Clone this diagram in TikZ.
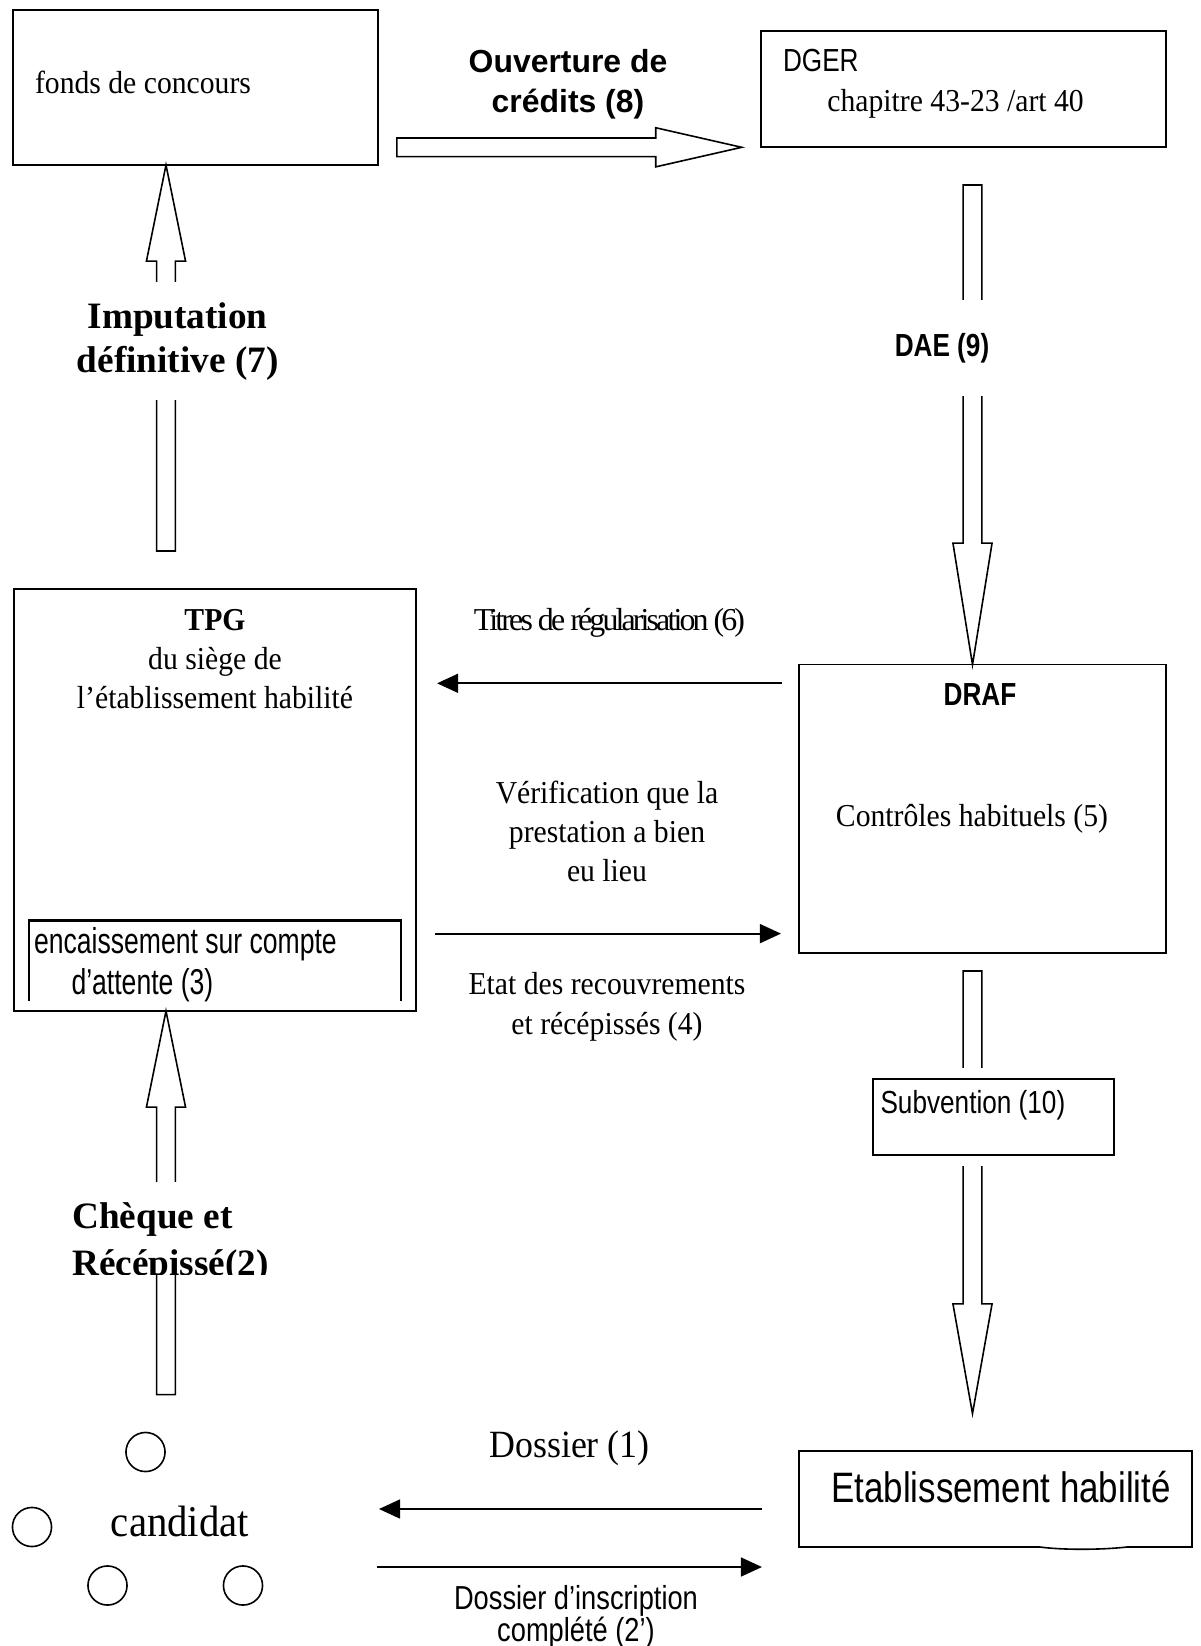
\documentclass[tikz,border=0pt]{standalone}
\usepackage{fontspec}
\setmainfont{Liberation Serif}[FakeStretch=0.93]
\setsansfont{Liberation Sans}[FakeStretch=0.82]
\newfontfamily\plainserif{Liberation Serif}
\newfontfamily\plainsans{Liberation Sans}
\newfontfamily\narrowsans{Liberation Sans}[FakeStretch=0.74]
\newfontfamily\tightserif{Liberation Serif}[LetterSpace=-9]
\usetikzlibrary{arrows.meta,calc}
\def\pxl{0.376pt}
\tikzset{
  >={Triangle[length=7.9pt,width=7.1pt]},
  box/.style={draw,line width=0.6pt,inner sep=0,outer sep=0},
  box thick/.style={box,line width=1pt},
  txt/.style={inner sep=0,font=\fontsize{12}{14.7}\selectfont},
  flow/.style={->,line width=0.75pt},
  hollow/.style={draw,line width=0.6pt,fill=white,line join=miter},
  ring/.style={circle,draw,line width=0.6pt,minimum size=14.7pt,inner sep=0}
}
% hollow block arrow: tail, tip, head length (pt)
\newcommand\hollowarrow[3]{%
  \draw[hollow] let \p1=(#1), \p2=(#2), \n1={veclen(\x2-\x1,\y2-\y1)},
    \n2={(\x2-\x1)/\n1}, \n3={(\y2-\y1)/\n1} in
    ({\x1-3.5*(\n3)},{\y1+3.5*(\n2)})
    -- ({\x2-#3*(\n2)-3.5*(\n3)},{\y2-#3*(\n3)+3.5*(\n2)})
    -- ({\x2-#3*(\n2)-7.35*(\n3)},{\y2-#3*(\n3)+7.35*(\n2)})
    -- (\x2,\y2)
    -- ({\x2-#3*(\n2)+7.35*(\n3)},{\y2-#3*(\n3)-7.35*(\n2)})
    -- ({\x2-#3*(\n2)+3.5*(\n3)},{\y2-#3*(\n3)-3.5*(\n2)})
    -- ({\x1+3.5*(\n3)},{\y1-3.5*(\n2)}) -- cycle;}

\begin{document}
\begin{tikzpicture}[x=\pxl,y=-\pxl]
\useasboundingbox (0,0) rectangle (1201,1646);
\coordinate (colL) at (166,0);
\coordinate (colR) at (972.5,0);
\coordinate (rowA) at (0,147.3);
\coordinate (row6) at (0,683.3);
\coordinate (row4) at (0,933.6);
\coordinate (row1) at (379,1509);
\coordinate (row2) at (376.7,1567);

\path
(195.5,87.5)  node[box,minimum width=137.2pt,minimum height=58.3pt] (fonds) {}
(963.5,89)    node[box,minimum width=152.3pt,minimum height=43.6pt] (dger) {}
(215,800)     node[box,minimum width=151.2pt,minimum height=158.7pt] (tpg) {}
(982.5,808.8) node[box,minimum width=138pt,minimum height=108.4pt] (draf) {}
(995.5,1499)  node[box,draw=none,minimum width=147.8pt,minimum height=36.1pt] (etab) {}
(145.5,1452)  node[ring] (c1) {}
(32,1527)     node[ring] (c2) {}
(107.5,1585.5) node[ring] (c3) {}
(243,1585.5)  node[ring] (c4) {};

% Etablissement box, its bottom edge slightly waved
\draw[line width=0.6pt] (etab.south east) -- (etab.north east) -- (etab.north west)
  -- (etab.south west) -- (1040,1547) .. controls (1062,1550) and (1100,1550) .. (1127,1547) -- cycle;

\hollowarrow{$(fonds.east |- rowA)+(19,0)$}{$(dger.west |- rowA)+(-19.3,0)$}{32.3}
\hollowarrow{$(colL |- tpg.north)+(0,-38)$}{colL |- fonds.south}{36.1}
\hollowarrow{$(colR |- dger.south)+(0,38)$}{colR |- draf.north}{45.7}
\hollowarrow{$(colR |- draf.south)+(0,18)$}{$(colR |- etab.north)+(0,-37.5)$}{41.2}
\hollowarrow{$(colL |- c1.north)+(0,-37)$}{colL |- tpg.south}{36.1}

\draw[line width=0.9pt] (29,1001) |- (401,920.5) -- (401,1001);

% multi-line labels sit on the baseline of their last line
\path
(993.5,1117) node[box thick,fill=white,preaction={draw=white,line width=8pt},
  minimum width=90.6pt,minimum height=28.6pt] (subv) {}
(34.5,93)   node[txt,anchor=base west] (fondsT) {fonds de concours}
(568,112)   node[txt,anchor=base,align=center,font={\plainsans\bfseries\fontsize{12}{14.7}\selectfont}] (ouv) {Ouverture de\\crédits (8)}
(782.5,111) node[txt,anchor=base west,align=left] (dgerT) {{\sffamily DGER}\\\hspace*{16.7pt}chapitre 43-23 /art 40}
(177.6,372) node[txt,anchor=base,align=center,fill=white,minimum height=44.4pt,
  font={\plainserif\bfseries\fontsize{14}{16.5}\selectfont}] (imp) {Imputation\\définitive (7)}
(942,356)   node[txt,anchor=base,fill=white,minimum height=36.1pt,
  font={\sffamily\bfseries\fontsize{12}{14.7}\selectfont}] (dae) {DAE (9)}
(215,708.6) node[txt,anchor=base,align=center] (tpgT) {\textbf{TPG}\\du siège de\\l’établissement habilité}
(609.5,630) node[txt,anchor=base,font={\tightserif\fontsize{12}{14.7}\selectfont}] (titres) {Titres de régularisation (6)}
(980,705)   node[txt,anchor=base,font={\sffamily\bfseries\fontsize{12}{14.7}\selectfont}] (drafT) {DRAF}
(972,826.4) node[txt,anchor=base] (ctrl) {Contrôles habituels (5)}
(607,881.8) node[txt,anchor=base,align=center,font={\fontsize{12}{14.8}\selectfont}] (verif) {Vérification que la\\prestation a bien\\eu lieu}
(607,1034)  node[txt,anchor=base,align=center,font={\fontsize{12}{15}\selectfont}] (etat) {Etat des recouvrements\\et récépissés (4)}
(33.5,994)  node[txt,anchor=base west,align=left,font={\narrowsans\fontsize{13.5}{15.4}\selectfont}] (encT) {encaissement sur compte\\\hspace*{14.1pt}d’attente (3)}
(880,1113.3) node[txt,anchor=base west,font={\sffamily\fontsize{12}{14.7}\selectfont}] (subvT) {Subvention (10)}
(180,1536)  node[txt,anchor=base,font={\fontsize{16.5}{19}\selectfont}] (cand) {candidat}
(569.5,1457) node[txt,anchor=base,font={\fontsize{14.5}{17}\selectfont}] (dos1) {Dossier (1)}
(576,1641)  node[txt,anchor=base,align=center,font={\sffamily\fontsize{12.5}{11.8}\selectfont\lineskiplimit=-20pt}] (dos2) {Dossier d’inscription\\complété (2’)}
(1001,1502.7) node[txt,anchor=base,font={\sffamily\fontsize{16}{19}\selectfont}] (etabT) {Etablissement habilité};

\begin{scope}
  \clip (60,1182) rectangle (300,1274);
  \fill[white] (60,1182) rectangle (300,1274);
  \node[txt,anchor=base west,align=left,font={\plainserif\bfseries\fontsize{14}{17.6}\selectfont}]
    (cheque) at (71.7,1275.7) {Chèque et\\Récépissé(2)};
\end{scope}

\draw[flow] ($(draf.west |- row6)+(-17,0)$) -- ($(tpg.east |- row6)+(21,0)$);
\draw[flow] ($(tpg.east |- row4)+(19,0)$) -- ($(draf.west |- row4)+(-18,0)$);
\draw[flow] ($(etab.west |- row1)+(-37,0)$) -- (row1);
\draw[flow] (row2) -- ($(etab.west |- row2)+(-37,0)$);
\end{tikzpicture}
\end{document}
